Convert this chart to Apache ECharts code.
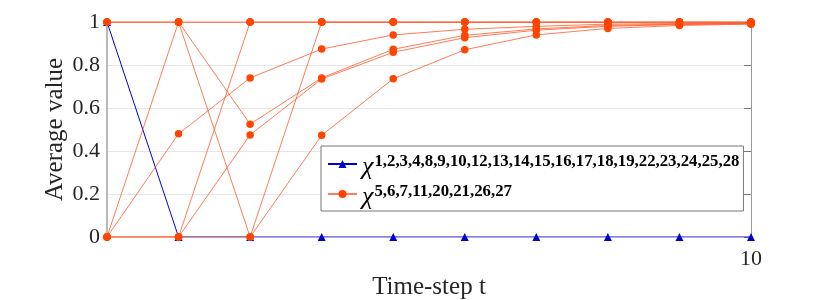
<!DOCTYPE html>
<html>
<head>
<meta charset="utf-8">
<script src="https://cdn.jsdelivr.net/npm/echarts@6/dist/echarts.min.js"></script>
<style>
  html, body { margin: 0; padding: 0; background: #fff; }
  #main { width: 830px; height: 300px; }
</style>
</head>
<body>
<div id="main"></div>
<script>
// time steps on the x axis
var timeSteps = [1, 2, 3, 4, 5, 6, 7, 8, 9, 10];
var xTickLabels = ['10'];
var yTicks = [0, 0.2, 0.4, 0.6, 0.8, 1];

// legend superscripts (agent indices)
var blueAgents = '1,2,3,4,8,9,10,12,13,14,15,16,17,18,19,22,23,24,25,28';
var orangeAgents = '5,6,7,11,20,21,26,27';

// blue group: all agents share the same trajectory
var blueVals = [1, 0, 0, 0, 0, 0, 0, 0, 0, 0];

// orange group: one trajectory per agent
var orange5  = [1, 1, 1, 1, 1, 1, 1, 1, 1, 1];
var orange6  = [0, 1, 0, 0.473, 0.736, 0.871, 0.94, 0.97, 0.984, 0.99];
var orange7  = [0, 0.48, 0.74, 0.874, 0.94, 0.966, 0.98, 0.99, 0.993, 0.995];
var orange11 = [0, 0, 1, 1, 1, 1, 1, 1, 1, 1];
var orange20 = [0, 0, 0.475, 0.735, 0.859, 0.927, 0.962, 0.98, 0.988, 0.992];
var orange21 = [0, 0, 0, 1, 1, 1, 1, 1, 1, 1];
var orange26 = [1, 1, 0.525, 0.74, 0.873, 0.938, 0.968, 0.984, 0.99, 0.994];
var orange27 = [1, 1, 1, 1, 1, 1, 1, 1, 1, 1];
var orangeList = [orange5, orange6, orange7, orange11, orange20, orange21, orange26, orange27];

var BLUE = '#0000cc';
var ORANGE = '#ff4500';
var FONT = 'Liberation Serif';

function pairs(vals) {
  return timeSteps.map(function (t, i) { return [t, vals[i]]; });
}

var blueName = 'χ' + blueAgents;
var orangeName = 'χ' + orangeAgents;

var series = [{
  name: blueName,
  type: 'line',
  symbol: 'triangle',
  symbolSize: 8,
  itemStyle: { color: BLUE },
  lineStyle: { color: BLUE, width: 1 },
  data: pairs(blueVals),
  z: 2
}];
orangeList.forEach(function (vals) {
  series.push({
    name: orangeName,
    type: 'line',
    symbol: 'circle',
    symbolSize: 7.5,
    itemStyle: { color: ORANGE },
    lineStyle: { color: '#ff5020', width: 1, opacity: 0.75 },
    data: pairs(vals),
    z: 3
  });
});

var chart = echarts.init(document.getElementById('main'));
chart.setOption({
  animation: false,
  backgroundColor: '#fff',
  grid: {
    left: 107,
    right: 79,
    top: 22,
    bottom: 63,
    outerBoundsMode: 'none'
  },
  legend: {
    orient: 'vertical',
    left: 321,
    top: 146,
    padding: [2, 4, 1, 6],
    itemGap: -2,
    itemWidth: 29,
    itemHeight: 10,
    borderColor: '#777',
    borderWidth: 1,
    borderRadius: 0,
    backgroundColor: '#fff',
    data: [blueName, orangeName],
    formatter: function (name) {
      return '{c|χ}{s|' + name.slice(1) + '}';
    },
    textStyle: {
      rich: {
        c: {
          fontFamily: FONT,
          fontStyle: 'italic',
          fontSize: 26,
          lineHeight: 22,
          padding: [6, 1, 0, 0],
          color: '#000'
        },
        s: {
          fontFamily: FONT,
          fontWeight: 'bold',
          fontSize: 16.8,
          lineHeight: 17,
          padding: [0, 0, 0, 0],
          verticalAlign: 'top',
          color: '#000'
        }
      }
    }
  },
  xAxis: {
    type: 'value',
    min: 1,
    max: 10,
    interval: 1,
    name: 'Time-step t',
    nameLocation: 'middle',
    nameGap: 38,
    nameMoveOverlap: false,
    nameTextStyle: { fontFamily: FONT, fontSize: 25, color: '#262626' },
    axisLine: { show: false },
    axisTick: { show: false },
    splitLine: { show: false },
    axisLabel: {
      margin: 11,
      fontFamily: FONT,
      fontSize: 22,
      color: '#262626',
      formatter: function (v) {
        return xTickLabels.indexOf(String(v)) > -1 ? String(v) : '';
      }
    }
  },
  yAxis: [{
    type: 'value',
    min: 0,
    max: 1,
    interval: 0.2,
    name: 'Average value',
    nameLocation: 'middle',
    nameGap: 39,
    nameMoveOverlap: false,
    nameTextStyle: { fontFamily: FONT, fontSize: 25, color: '#262626' },
    axisLine: { show: true, lineStyle: { color: '#b8b8b8', width: 2 } },
    axisTick: { show: false },
    splitLine: { show: true, lineStyle: { color: '#e6e6e6', width: 1 } },
    axisLabel: {
      margin: 7,
      fontFamily: FONT,
      fontSize: 22,
      color: '#262626',
      formatter: function (v) {
        for (var i = 0; i < yTicks.length; i++) {
          if (Math.abs(v - yTicks[i]) < 1e-9) return String(yTicks[i]);
        }
        return '';
      }
    }
  }, {
    type: 'value',
    position: 'right',
    min: 0,
    max: 1,
    interval: 0.2,
    axisLine: { show: true, lineStyle: { color: '#999', width: 1 } },
    axisTick: { show: true, inside: true, length: 7, lineStyle: { color: '#777' } },
    splitLine: { show: false },
    axisLabel: { show: false }
  }],
  series: series
});
</script>
</body>
</html>
